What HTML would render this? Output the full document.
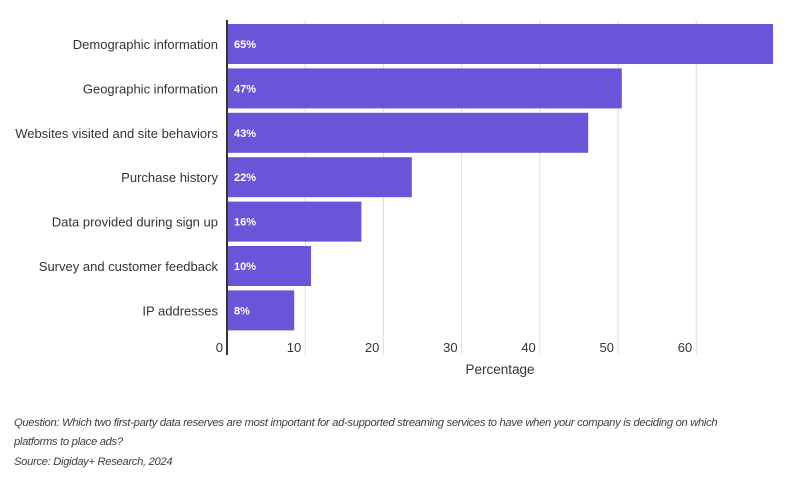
<!DOCTYPE html>
<html><head><meta charset="utf-8"><style>
body{margin:0;background:#fff;width:795px;height:480px;overflow:hidden;font-family:"Liberation Sans",sans-serif}
.note{position:absolute;left:14px;font-style:italic;font-size:11.2px;color:#3c3c3c;letter-spacing:-0.3px;line-height:19px}
</style></head><body>
<svg id="chart" width="795" height="400" style="position:absolute;left:0;top:0"></svg>
<div class="note" style="top:414px;width:740px">Question: Which two first-party data reserves are most important for ad-supported streaming services to have when your company is deciding on which platforms to place ads?</div>
<div class="note" style="top:453px">Source: Digiday+ Research, 2024</div>
<script>
const categories=["Demographic information","Geographic information","Websites visited and site behaviors","Purchase history","Data provided during sign up","Survey and customer feedback","IP addresses"];
const values=[65,47,43,22,16,10,8];
const valueLabels=["65%","47%","43%","22%","16%","10%","8%"];
const ticks=[0,10,20,30,40,50,60];
const tickLabels=["0","10","20","30","40","50","60"];
const svg=document.getElementById('chart');
const NS='http://www.w3.org/2000/svg';
const x0=227;
function xBar(v){return x0+v*8.4;}
function xTick(v){return x0+v*7.82;}
function yRow(i){return 24+i*44.4;}
function mk(t,a){const e=document.createElementNS(NS,t);for(const k in a)e.setAttribute(k,a[k]);svg.appendChild(e);return e;}
ticks.forEach((t,i)=>{
  if(t>0){const g=mk('line',{x1:xTick(t),x2:xTick(t),y1:20,y2:355,stroke:'#dcdcdc','stroke-width':1});
  
  }
  const l=mk('text',{x:xTick(t)-4,y:352,'text-anchor':'end','font-size':13,fill:'#333'});
  
  
  l.textContent=tickLabels[i];
});
categories.forEach((c,i)=>{
  const y=yRow(i);
  const b=mk('rect',{x:x0,y:y,width:xBar(values[i])-x0,height:40,fill:'#6c54d9'});
  
  
  const v=mk('text',{x:x0+7,y:y+24,'font-size':11,'font-weight':'bold',fill:'#fff'});
  
  
  v.textContent=valueLabels[i];
  const t=mk('text',{x:218,y:y+25,'text-anchor':'end','font-size':13,fill:'#333'});
  
  
  t.textContent=c;
});
const ax=mk('line',{x1:x0,x2:x0,y1:20,y2:355,stroke:'#333','stroke-width':2});


const tt=mk('text',{x:500,y:374,'text-anchor':'middle','font-size':13.5,fill:'#333'});


tt.textContent='Percentage';
</script>
</body></html>
